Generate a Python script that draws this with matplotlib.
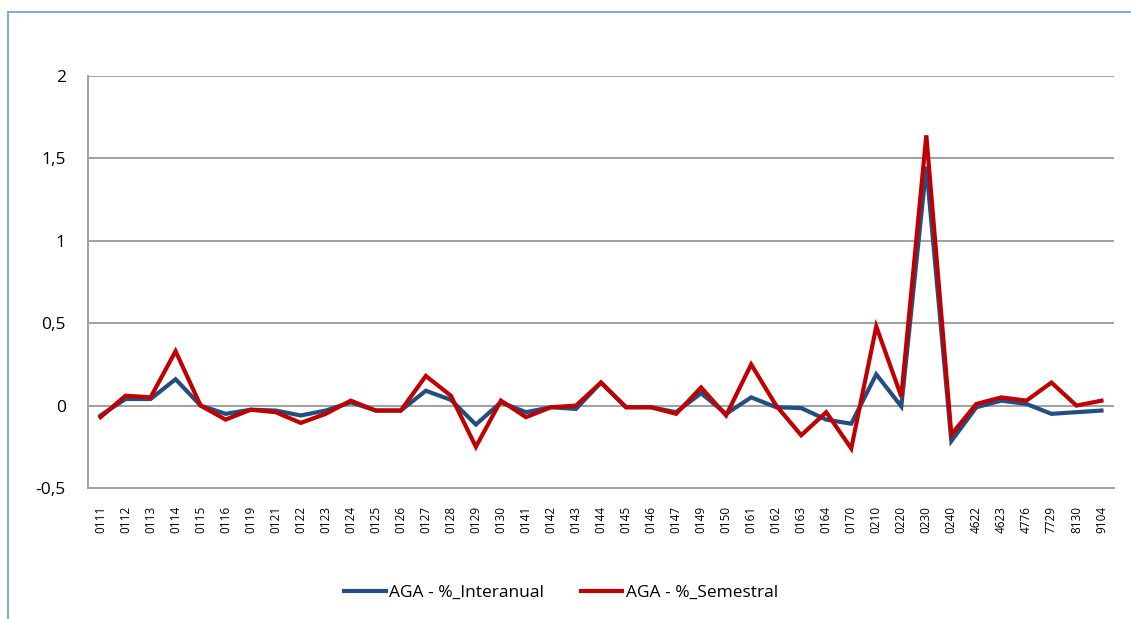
import matplotlib.pyplot as plt
from matplotlib.lines import Line2D

codigos = ["0111", "0112", "0113", "0114", "0115", "0116", "0119", "0121", "0122", "0123",
           "0124", "0125", "0126", "0127", "0128", "0129", "0130", "0141", "0142", "0143",
           "0144", "0145", "0146", "0147", "0149", "0150", "0161", "0162", "0163", "0164",
           "0170", "0210", "0220", "0230", "0240", "4622", "4623", "4776", "7729", "8130",
           "9104"]

interanual = [-0.06, 0.04, 0.04, 0.16, 0.0, -0.05, -0.025, -0.03, -0.06, -0.03,
              0.02, -0.03, -0.03, 0.09, 0.035, -0.115, 0.02, -0.04, -0.01, -0.02,
              0.14, -0.01, -0.01, -0.04, 0.075, -0.05, 0.05, -0.01, -0.015, -0.085,
              -0.11, 0.19, -0.005, 1.45, -0.215, -0.01, 0.03, 0.01, -0.05, -0.04,
              -0.03]

semestral = [-0.07, 0.06, 0.05, 0.33, 0.0, -0.085, -0.025, -0.04, -0.105, -0.05,
             0.03, -0.03, -0.03, 0.18, 0.06, -0.25, 0.03, -0.07, -0.01, 0.0,
             0.14, -0.01, -0.01, -0.05, 0.11, -0.06, 0.25, 0.0, -0.18, -0.04,
             -0.26, 0.48, 0.055, 1.64, -0.175, 0.01, 0.05, 0.03, 0.14, 0.0,
             0.03]

y_ticks = [-0.5, 0, 0.5, 1, 1.5, 2]
y_labels = ["-0,5", "0", "0,5", "1", "1,5", "2"]

azul = "#254E80"
rojo = "#C00000"
gris = "#A0A0A0"

plt.rcParams['font.family'] = ['Open Sans', 'DejaVu Sans']

fig = plt.figure(figsize=(11.31, 6.19), dpi=100)
W, H = 1131, 619
ax = fig.add_axes([88 / W, 1 - 488 / H, (1114 - 88) / W, (488 - 76) / H])

x = list(range(len(codigos)))
ax.plot(x, interanual, color=azul, linewidth=3, solid_joinstyle='miter', zorder=3)
ax.plot(x, semestral, color=rojo, linewidth=3, solid_joinstyle='miter', zorder=4)

ax.set_xlim(-0.5, len(codigos) - 0.5)
ax.set_ylim(-0.5, 2)
ax.set_yticks(y_ticks)
ax.set_yticklabels(y_labels, fontsize=12.5)
ax.set_xticks(x)
ax.set_xticklabels(codigos, rotation=90, fontsize=8.5)
ax.tick_params(axis='both', length=0)
ax.tick_params(axis='y', pad=16)
ax.tick_params(axis='x', pad=13)

for v in y_ticks[1:]:
    ax.axhline(v, color=gris, linewidth=1.4, zorder=1)

for lado in ['top', 'right']:
    ax.spines[lado].set_visible(False)
for lado in ['left', 'bottom']:
    ax.spines[lado].set_color(gris)
    ax.spines[lado].set_linewidth(1.4)

# marco azul del grafico (solo arriba e izquierda visibles)
fig.add_artist(Line2D([8 / W, 1], [1 - 12 / H, 1 - 12 / H], color="#6F9BD8", linewidth=1.2))
fig.add_artist(Line2D([8 / W, 8 / W], [0, 1 - 12 / H], color="#6F9BD8", linewidth=1.2))

handles = [Line2D([], [], color=azul, linewidth=3), Line2D([], [], color=rojo, linewidth=3)]
fig.legend(handles, ["AGA - %_Interanual", "AGA - %_Semestral"], loc='center',
           bbox_to_anchor=(561 / W, 1 - 593 / H), ncol=2, frameon=False, fontsize=12.5,
           handlelength=2.4, handletextpad=0.2, columnspacing=2.1)

fig.savefig("out.png", dpi=100)
